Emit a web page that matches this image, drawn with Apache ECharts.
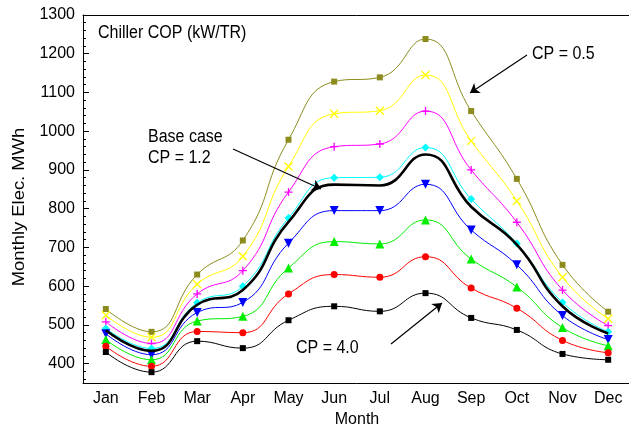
<!DOCTYPE html>
<html>
<head>
<meta charset="utf-8">
<script src="https://cdn.jsdelivr.net/npm/echarts@6/dist/echarts.min.js"></script>
<style>
  html, body { margin: 0; padding: 0; background: #fff; }
  #chart { width: 629px; height: 430px; }
</style>
</head>
<body>
<div id="chart"></div>
<script>
// Monthly electricity use for chillers of different efficiency (kW/TR)
const months = ['Jan', 'Feb', 'Mar', 'Apr', 'May', 'Jun', 'Jul', 'Aug', 'Sep', 'Oct', 'Nov', 'Dec'];

const cp05   = [541, 482, 630, 718, 978, 1128, 1139, 1238, 1052, 877, 655, 534];
const cpYel  = [525, 468, 605, 677, 909, 1045, 1053, 1145, 975, 820, 623, 516];
const cpMag  = [508, 452, 580, 640, 843, 960, 967, 1052, 900, 765, 590, 498];
const cpCyan = [491, 439, 557, 600, 776, 880, 881, 958, 825, 710, 558, 482];
const base12 = [486, 433, 552, 590, 766, 862, 860, 940, 805, 707, 548, 478];
const cpBlue = [477, 423, 532, 558, 711, 795, 795, 863, 745, 655, 524, 462];
const cpGrn  = [462, 410, 510, 522, 647, 715, 709, 771, 670, 598, 493, 446];
const cpRed  = [445, 393, 483, 480, 580, 630, 623, 676, 595, 543, 460, 428];
const cp40   = [430, 378, 458, 440, 512, 548, 535, 582, 518, 487, 425, 410];

const FONT = 'Liberation Sans, Arial, sans-serif';
const TEXT_STRETCH = 1.15;

function line(name, data, color, symbol, size, extra) {
  return Object.assign({
    name: name,
    type: 'line',
    data: data,
    smooth: 0.5,
    symbol: symbol,
    symbolSize: size,
    showAllSymbol: true,
    color: color,
    lineStyle: { color: color, width: 1 },
    itemStyle: { color: color, borderColor: color, borderWidth: 0 },
    z: 3,
    animation: false
  }, extra || {});
}

function note(text, x, y) {
  return {
    type: 'text', x: x, y: y, scaleY: TEXT_STRETCH,
    style: { text: text, fill: '#000', font: '16px ' + FONT, lineHeight: 18 }
  };
}

const chart = echarts.init(document.getElementById('chart'), null, { renderer: 'canvas' });

const option = {
  backgroundColor: '#fff',
  textStyle: { fontFamily: FONT },
  grid: {
    left: 83, top: 15, width: 548, height: 368,
    containLabel: false,
    outerBoundsMode: 'none'
  },
  xAxis: [{
    type: 'category',
    data: months,
    boundaryGap: true,
    axisLine: { lineStyle: { color: '#000', width: 1 } },
    axisTick: { inside: true, alignWithLabel: true, length: 6, lineStyle: { color: '#000' } },
    axisLabel: { color: '#000', fontSize: 16, fontFamily: FONT, margin: 8 },
    splitLine: { show: false },
    name: 'Month',
    nameLocation: 'middle',
    nameGap: 28,
    nameTextStyle: { color: '#000', fontSize: 16, fontFamily: FONT }
  }, {
    type: 'category',
    data: months,
    position: 'top',
    boundaryGap: true,
    axisLine: { lineStyle: { color: '#000', width: 1 } },
    axisTick: { inside: true, alignWithLabel: true, length: 4, lineStyle: { color: '#000' } },
    axisLabel: { show: false },
    splitLine: { show: false }
  }],
  yAxis: {
    type: 'value',
    min: 350,
    max: 1300,
    splitNumber: 9,
    axisLine: { show: true, lineStyle: { color: '#000', width: 1 } },
    axisTick: { show: true, inside: true, length: 6, lineStyle: { color: '#000' } },
    minorTick: { show: true, splitNumber: 5, length: 3, lineStyle: { color: '#000' } },
    axisLabel: {
      color: '#000', fontSize: 16, fontFamily: FONT, margin: 8,
      formatter: function (v) { return v % 100 === 0 ? String(v) : ''; }
    },
    splitLine: { show: false }
  },
  series: [
    line('cp05', cp05, '#8c8c1e', 'rect', 6),
    line('cpYel', cpYel, '#ffff00', 'path://M0,0L10,10M10,0L0,10', 8,
      { itemStyle: { color: '#ffff00', borderColor: '#ffff00', borderWidth: 1.3 } }),
    line('cpMag', cpMag, '#ff00ff', 'path://M5,0L5,10M0,5L10,5', 8,
      { itemStyle: { color: '#ff00ff', borderColor: '#ff00ff', borderWidth: 1.3 } }),
    line('cpCyan', cpCyan, '#00ffff', 'diamond', 8),
    line('base12', base12, '#000000', 'none', 0, {
      lineStyle: { color: '#000', width: 2.6 },
      z: 4,
      markLine: {
        silent: true,
        animation: false,
        symbol: ['none', 'arrow'],
        symbolSize: 9,
        label: { show: false },
        lineStyle: { color: '#000', width: 1.2, type: 'solid' },
        data: [
          [{ x: 233, y: 149 }, { x: 321, y: 189 }],
          [{ x: 527, y: 55 }, { x: 470, y: 93 }],
          [{ x: 391, y: 344 }, { x: 442, y: 303 }]
        ]
      }
    }),
    line('cpBlue', cpBlue, '#0000ff', 'triangle', 9, { symbolRotate: 180 }),
    line('cpGrn', cpGrn, '#00ee00', 'triangle', 9),
    line('cpRed', cpRed, '#ff0000', 'circle', 7),
    line('cp40', cp40, '#000000', 'rect', 6)
  ],
  graphic: [
    // rotated y-axis title
    {
      type: 'text', x: 20, y: 207, rotation: Math.PI / 2, scaleX: TEXT_STRETCH,
      style: { text: 'Monthly Elec. MWh', fill: '#000', font: '16px ' + FONT, align: 'center', verticalAlign: 'middle' }
    },
    note('Chiller COP (kW/TR)', 98, 23),
    note('Base case\nCP = 1.2', 148, 127),
    note('CP = 0.5', 532, 44),
    note('CP = 4.0', 296, 338)
  ]
};

chart.setOption(option);
</script>
</body>
</html>
